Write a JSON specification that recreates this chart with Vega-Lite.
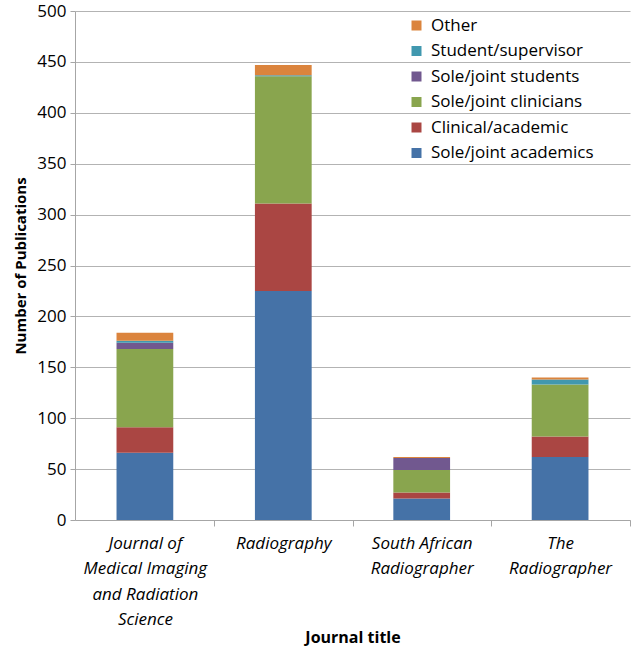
{
  "$schema": "https://vega.github.io/schema/vega-lite/v6.json",
  "width": 555,
  "height": 509,
  "autosize": {"type": "none"},
  "padding": {"left": 75, "top": 11, "right": 1, "bottom": 129},
  "background": "white",
  "config": {
    "view": {"stroke": null},
    "font": "Open Sans",
    "axis": {"labelFont": "Open Sans", "titleFont": "Open Sans"},
    "legend": {"labelFont": "Open Sans"}
  },
  "data": {
    "values": [
      {"journal": "JMIRS", "author": "Sole/joint academics", "count": 66},
      {"journal": "JMIRS", "author": "Clinical/academic", "count": 25},
      {"journal": "JMIRS", "author": "Sole/joint clinicians", "count": 77},
      {"journal": "JMIRS", "author": "Sole/joint students", "count": 6},
      {"journal": "JMIRS", "author": "Student/supervisor", "count": 2},
      {"journal": "JMIRS", "author": "Other", "count": 8},
      {"journal": "Radiography", "author": "Sole/joint academics", "count": 225},
      {"journal": "Radiography", "author": "Clinical/academic", "count": 86},
      {"journal": "Radiography", "author": "Sole/joint clinicians", "count": 125},
      {"journal": "Radiography", "author": "Sole/joint students", "count": 0},
      {"journal": "Radiography", "author": "Student/supervisor", "count": 1},
      {"journal": "Radiography", "author": "Other", "count": 10},
      {"journal": "SAR", "author": "Sole/joint academics", "count": 21},
      {"journal": "SAR", "author": "Clinical/academic", "count": 6},
      {"journal": "SAR", "author": "Sole/joint clinicians", "count": 22},
      {"journal": "SAR", "author": "Sole/joint students", "count": 12},
      {"journal": "SAR", "author": "Student/supervisor", "count": 0},
      {"journal": "SAR", "author": "Other", "count": 1},
      {"journal": "TR", "author": "Sole/joint academics", "count": 62},
      {"journal": "TR", "author": "Clinical/academic", "count": 20},
      {"journal": "TR", "author": "Sole/joint clinicians", "count": 51},
      {"journal": "TR", "author": "Sole/joint students", "count": 0},
      {"journal": "TR", "author": "Student/supervisor", "count": 5},
      {"journal": "TR", "author": "Other", "count": 2}
    ]
  },
  "transform": [
    {"calculate": "indexof(['Sole/joint academics', 'Clinical/academic', 'Sole/joint clinicians', 'Sole/joint students', 'Student/supervisor', 'Other'], datum.author)", "as": "stackOrder"}
  ],
  "mark": {"type": "bar"},
  "encoding": {
    "x": {
      "field": "journal",
      "type": "nominal",
      "sort": ["JMIRS", "Radiography", "SAR", "TR"],
      "scale": {"paddingInner": 0.59, "paddingOuter": 0.3},
      "axis": {
        "title": "Journal title",
        "titleFontSize": 16,
        "titleFontWeight": "bold",
        "titleColor": "#000",
        "titlePadding": 2,
        "labelExpr": "datum.value == 'JMIRS' ? ['Journal of', 'Medical Imaging', 'and Radiation', 'Science'] : datum.value == 'Radiography' ? ['Radiography'] : datum.value == 'SAR' ? ['South African', 'Radiographer'] : ['The', 'Radiographer']",
        "labelAngle": 0,
        "labelFontSize": 17,
        "labelFontStyle": "italic",
        "labelColor": "#000",
        "labelLineHeight": 25.5,
        "labelPadding": 9,
        "labelOffset": -69.4,
        "domainColor": "#a6a6a6",
        "tickColor": "#a6a6a6",
        "tickSize": 6,
        "tickOffset": 69.4,
        "grid": false
      }
    },
    "y": {
      "field": "count",
      "type": "quantitative",
      "aggregate": "sum",
      "scale": {"domain": [0, 500], "nice": false},
      "axis": {
        "title": "Number of Publications",
        "titleFontSize": 15,
        "titleFontWeight": "bold",
        "titleColor": "#000",
        "titlePadding": 8,
        "values": [0, 50, 100, 150, 200, 250, 300, 350, 400, 450, 500],
        "labelFontSize": 17,
        "labelColor": "#000",
        "labelPadding": 4,
        "domainColor": "#a6a6a6",
        "tickColor": "#a6a6a6",
        "tickSize": 5,
        "gridColor": "#b3b3b3",
        "gridWidth": 1
      }
    },
    "order": {"field": "stackOrder", "type": "quantitative", "sort": "ascending"},
    "color": {
      "field": "author",
      "type": "nominal",
      "scale": {
        "domain": ["Other", "Student/supervisor", "Sole/joint students", "Sole/joint clinicians", "Clinical/academic", "Sole/joint academics"],
        "range": ["#DB843D", "#4198AF", "#71588F", "#89A54E", "#AA4643", "#4572A7"]
      },
      "legend": {
        "title": null,
        "orient": "none",
        "legendX": 333,
        "legendY": 6,
        "symbolType": "square",
        "symbolSize": 100,
        "symbolStrokeWidth": 0,
        "labelFontSize": 17,
        "labelColor": "#000",
        "labelLimit": 300,
        "rowPadding": 7.5,
        "labelOffset": 6
      }
    }
  }
}
